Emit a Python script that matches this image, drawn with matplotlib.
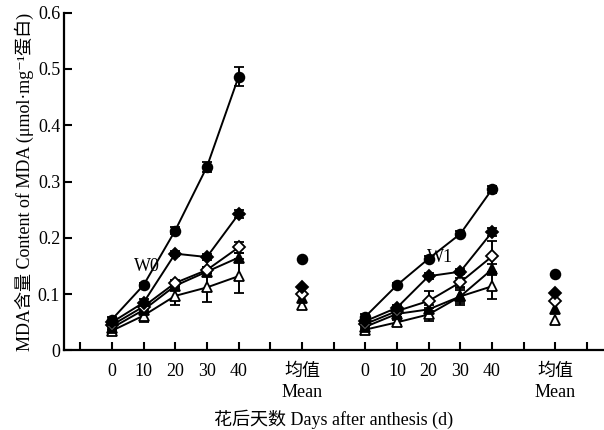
import matplotlib
matplotlib.use("Agg")
import matplotlib.pyplot as plt
import numpy as np

plt.rcParams['font.family'] = ['Liberation Serif', 'Noto Sans CJK SC', 'DejaVu Sans']

days = [0, 10, 20, 30, 40]
groups = ["W0", "W1"]
tick_day_labels = ["0", "10", "20", "30", "40"]
mean_label = "均值\nMean"

# W0 series (filled circle, filled diamond, open diamond, filled triangle, open triangle)
w0_vals = [
    [0.055, 0.116, 0.213, 0.326, 0.486],
    [0.050, 0.085, 0.172, 0.166, 0.242],
    [0.045, 0.078, 0.120, 0.143, 0.183],
    [0.040, 0.072, 0.115, 0.140, 0.165],
    [0.035, 0.062, 0.097, 0.112, 0.132],
]
w0_errs = [
    [0.004, 0.004, 0.006, 0.009, 0.017],
    [0.004, 0.006, 0.005, 0.005, 0.007],
    [0.004, 0.008, 0.006, 0.006, 0.010],
    [0.004, 0.006, 0.006, 0.008, 0.008],
    [0.004, 0.012, 0.016, 0.025, 0.030],
]
w0_means = [0.163, 0.112, 0.100, 0.093, 0.080]

w1_vals = [
    [0.060, 0.116, 0.163, 0.207, 0.286],
    [0.052, 0.076, 0.132, 0.140, 0.210],
    [0.047, 0.070, 0.088, 0.121, 0.167],
    [0.042, 0.065, 0.073, 0.096, 0.144],
    [0.037, 0.050, 0.064, 0.096, 0.114],
]
w1_errs = [
    [0.004, 0.004, 0.005, 0.005, 0.007],
    [0.004, 0.005, 0.005, 0.005, 0.007],
    [0.004, 0.005, 0.018, 0.008, 0.028],
    [0.004, 0.005, 0.007, 0.012, 0.010],
    [0.004, 0.004, 0.012, 0.015, 0.022],
]
w1_means = [0.136, 0.103, 0.088, 0.073, 0.055]

markers = ['o', 'D', 'D', '^', '^']
filled = [True, True, False, True, False]
msizes = [7, 5.8, 5.8, 7, 7]

fig = plt.figure(figsize=(6.04, 4.30), dpi=100)
ax = fig.add_axes([0.1065, 0.1849, 0.8915, 0.7856])

group_offsets = [0, 8]
mean_offset = 6

all_vals = [w0_vals, w1_vals]
all_errs = [w0_errs, w1_errs]
all_means = [w0_means, w1_means]

for g, off in enumerate(group_offsets):
    xs = off + np.array(days) / 10.0
    for i in range(5):
        mfc = 'black' if filled[i] else 'white'
        ax.errorbar(xs, all_vals[g][i], yerr=all_errs[g][i], color='black',
                    lw=1.4, marker=markers[i], ms=msizes[i], mfc=mfc, mec='black',
                    mew=1.3, capsize=3.5, capthick=1.4, elinewidth=1.4, zorder=3 + (5 - i))
    xm = off + mean_offset
    for i in range(5):
        mfc = 'black' if filled[i] else 'white'
        ax.plot([xm], [all_means[g][i]], marker=markers[i], ms=msizes[i], mfc=mfc,
                mec='black', mew=1.3, ls='none', zorder=3 + (5 - i))

ax.text(1.1, 0.150, "W0", fontsize=13, ha='center', va='center', zorder=2)
ax.text(10.35, 0.165, "W1", fontsize=13, ha='center', va='center', zorder=2)

ax.set_xlim(-1.5, 15.5)
ax.set_ylim(0, 0.6)

tick_pos = list(range(-1, 16))
labels = []
for p in tick_pos:
    lab = ""
    for off in group_offsets:
        if off <= p <= off + 4:
            lab = tick_day_labels[p - off]
        elif p == off + mean_offset:
            lab = mean_label
    labels.append(lab)
ax.set_xticks(tick_pos)
ax.set_xticklabels(labels, fontsize=13, linespacing=1.3)
ax.set_yticks([0, 0.1, 0.2, 0.3, 0.4, 0.5, 0.6])
ax.set_yticklabels(["0", "0.1", "0.2", "0.3", "0.4", "0.5", "0.6"], fontsize=13)

ax.tick_params(direction='in', length=6, width=1.5)
ax.tick_params(axis='x', pad=9)
ax.tick_params(axis='y', pad=3)
for s in ['top', 'right']:
    ax.spines[s].set_visible(False)
for s in ['left', 'bottom']:
    ax.spines[s].set_linewidth(1.6)

ax.set_xlabel("花后天数 Days after anthesis (d)", fontsize=13, labelpad=6)
ax.set_ylabel("MDA含量 Content of MDA (μmol·mg⁻¹蛋白)", fontsize=13, labelpad=3)

fig.savefig("out.png", dpi=100)
